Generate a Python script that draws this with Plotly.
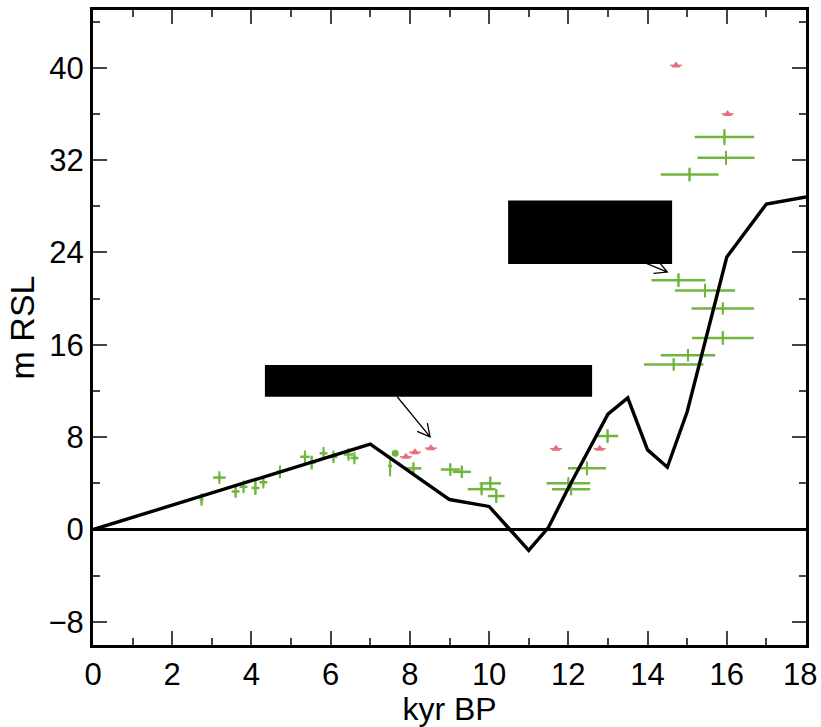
import math
import plotly.graph_objects as go

# ---- data ----
rsl_x = [0, 6, 7, 9, 10, 11, 11.5, 12, 13, 13.5, 14, 14.5, 15, 16, 17, 18]
rsl_y = [0, 6.4, 7.4, 2.6, 2.0, -1.8, 0.2, 3.6, 10.0, 11.4, 6.9, 5.4, 10.2, 23.6, 28.2, 28.8]

green_x = [2.74, 3.19, 3.6, 3.8, 4.1, 4.3, 4.72, 5.35, 5.52, 5.82, 6.07, 6.45, 6.6,
           7.5, 8.09, 9.02, 9.31, 10.03, 9.81, 10.18, 12.0, 12.07, 12.47, 12.99,
           14.66, 15.02, 15.9, 15.9, 15.45, 14.78, 15.06, 15.98, 15.94]
green_y = [2.6, 4.5, 3.3, 3.7, 3.6, 4.1, 5.0, 6.3, 5.8, 6.6, 6.3, 6.5, 6.2,
           5.5, 5.3, 5.2, 5.0, 4.0, 3.5, 2.9, 4.0, 3.5, 5.3, 8.1,
           14.3, 15.1, 16.6, 19.15, 20.7, 21.6, 30.75, 32.2, 34.0]
green_xerr = [0.05, 0.16, 0.1, 0.1, 0.1, 0.1, 0.08, 0.12, 0.1, 0.1, 0.1, 0.12, 0.1,
              0.05, 0.2, 0.24, 0.23, 0.27, 0.35, 0.21, 0.55, 0.48, 0.48, 0.27,
              0.75, 0.69, 0.78, 0.79, 0.76, 0.68, 0.73, 0.72, 0.75]
green_yerr = [0.4, 0.3, 0.5, 0.4, 0.6, 0.3, 0.5, 0.3, 0.6, 0.3, 0.4, 0.4, 0.3,
              0.9, 0.4, 0.5, 0.5, 0.6, 0.4, 0.6, 0.3, 0.5, 0.6, 0.6,
              0.5, 0.5, 0.6, 0.3, 0.6, 0.6, 0.6, 0.6, 0.7]

dot_x = [7.63]
dot_y = [6.6]

red_x = [7.9, 8.13, 8.53, 11.69, 12.79, 14.72, 16.02]
red_y = [6.3, 6.7, 7.05, 7.0, 7.0, 40.2, 36.0]

x_range = [0, 18]
y_range = [-10, 45]
x_ticks = [0, 2, 4, 6, 8, 10, 12, 14, 16, 18]
y_ticks = [-8, 0, 8, 16, 24, 32, 40]

# ---- figure ----
GREEN = "rgb(112,182,62)"
RED = "rgb(230,110,125)"
FONT = "Liberation Sans, Arial"
TICK_SIZE = 31

fig = go.Figure()

fig.add_trace(go.Scatter(
    x=green_x, y=green_y, mode="markers",
    marker=dict(symbol="line-ns", size=9, color=GREEN, line=dict(color=GREEN, width=2)),
    error_x=dict(type="data", array=green_xerr, color=GREEN, thickness=2.5, width=0),
    error_y=dict(type="data", array=green_yerr, color=GREEN, thickness=2, width=0),
    showlegend=False, hoverinfo="skip"))

fig.add_trace(go.Scatter(
    x=dot_x, y=dot_y, mode="markers",
    marker=dict(symbol="circle", size=7, color=GREEN),
    showlegend=False))

fig.add_trace(go.Scatter(
    x=red_x, y=red_y, mode="markers",
    marker=dict(symbol="triangle-up", size=8, color=RED),
    error_x=dict(type="constant", value=0.15, color=RED, thickness=1.5, width=0),
    showlegend=False))

fig.add_trace(go.Scatter(
    x=rsl_x, y=rsl_y, mode="lines",
    line=dict(color="black", width=3.4),
    showlegend=False))

# zero line
fig.add_shape(type="line", xref="x", yref="y", x0=x_range[0], x1=x_range[1], y0=0, y1=0,
              line=dict(color="black", width=3), layer="above")

# redaction boxes
fig.add_shape(type="rect", xref="x", yref="y", x0=4.34, x1=12.6, y0=11.5, y1=14.25,
              fillcolor="black", line=dict(width=0), layer="above")
fig.add_shape(type="rect", xref="x", yref="y", x0=10.48, x1=14.62, y0=23.0, y1=28.5,
              fillcolor="black", line=dict(width=0), layer="above")

# arrows (open V heads)
PX = (806 - 93) / (x_range[1] - x_range[0])
PY = (645 - 10) / (y_range[1] - y_range[0])


def arrow(tx, ty, hx, hy, L=14, ang=28):
    dx = (hx - tx) * PX
    dy = (hy - ty) * PY
    th = math.atan2(dy, dx)
    pts = []
    for s in (1, -1):
        a = th + math.pi + s * math.radians(ang)
        pts.append((hx + L * math.cos(a) / PX, hy + L * math.sin(a) / PY))
    path = (f"M {tx},{ty} L {hx},{hy} "
            f"M {pts[0][0]},{pts[0][1]} L {hx},{hy} L {pts[1][0]},{pts[1][1]}")
    fig.add_shape(type="path", xref="x", yref="y", path=path,
                  line=dict(color="black", width=1.3), layer="above")


arrow(7.68, 11.5, 8.51, 8.03)
arrow(13.97, 23.05, 14.5, 22.3)

axis_common = dict(
    showline=True, linecolor="black", linewidth=3, mirror="allticks",
    ticks="inside", ticklen=14, tickwidth=1.5, tickcolor="#444",
    showgrid=False, zeroline=False,
    tickfont=dict(family=FONT, size=TICK_SIZE, color="black"),
)

# last x label drawn separately so it can sit flush with the page edge
x_text = [str(v) for v in x_ticks[:-1]] + [""]
fig.add_annotation(text=str(x_ticks[-1]), x=x_ticks[-1], xref="x", y=0, yref="paper",
                   yanchor="top", xanchor="right", xshift=13, yshift=-10, showarrow=False,
                   font=dict(family=FONT, size=TICK_SIZE, color="black"))

fig.update_xaxes(range=x_range, tickmode="array", tickvals=x_ticks, ticktext=x_text,
                 minor=dict(dtick=1, tick0=0, ticks="inside", ticklen=7, tickcolor="#444", tickwidth=1.5),
                 title=dict(text="kyr BP", font=dict(family=FONT, size=32, color="black"),
                            standoff=2),
                 **axis_common)
fig.update_yaxes(range=y_range, tickmode="array", tickvals=y_ticks,
                 ticktext=[("\u2212" + str(-v)) if v < 0 else str(v) for v in y_ticks],
                 minor=dict(dtick=4, tick0=0, ticks="inside", ticklen=7, tickcolor="#444", tickwidth=1.5),
                 title=dict(text="m RSL", font=dict(family=FONT, size=34, color="black"),
                            standoff=4),
                 **axis_common)

fig.update_layout(
    width=821, height=727,
    margin=dict(l=93, r=15, t=10, b=82, autoexpand=False),
    paper_bgcolor="white", plot_bgcolor="white",
    showlegend=False,
)

fig.write_html("out.html")
